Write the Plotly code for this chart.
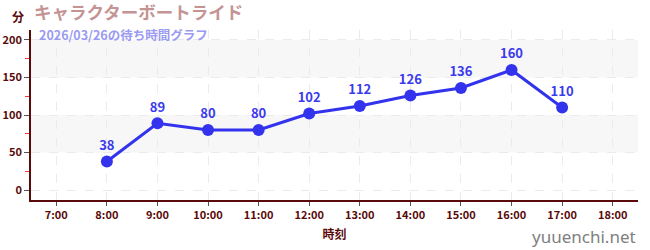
import plotly.graph_objects as go

hours = [8, 9, 10, 11, 12, 13, 14, 15, 16, 17]
waits = [38, 89, 80, 80, 102, 112, 126, 136, 160, 110]
tick_hours = [7, 8, 9, 10, 11, 12, 13, 14, 15, 16, 17, 18]
tick_labels = [f"{h}:00" for h in tick_hours]
y_ticks = [0, 50, 100, 150, 200]
bands = [(50, 100), (150, 200)]

title = "キャラクターボートライド"
subtitle = "2026/03/26の待ち時間グラフ"
font = "Noto Sans CJK JP"
axis_col = "#5a0a0a"

fig = go.Figure()
fig.add_trace(go.Scatter(
    x=hours, y=waits, mode="lines+markers+text",
    text=[str(v) for v in waits], textposition="top center",
    textfont=dict(family=font, size=13, color="#3a3aee", weight="bold"),
    line=dict(color="#3333ee", width=3),
    marker=dict(color="#3333ee", size=12),
    cliponaxis=False, hoverinfo="skip",
))

shapes = []
for lo, hi in bands:
    shapes.append(dict(type="rect", xref="paper", yref="y", x0=0, x1=1, y0=lo, y1=hi,
                       fillcolor="#f7f7f7", line=dict(width=0), layer="below"))

fig.update_layout(
    width=650, height=250,
    margin=dict(l=31, r=12, t=30, b=50),
    paper_bgcolor="white", plot_bgcolor="white",
    showlegend=False,
    shapes=shapes,
    font=dict(family=font, color=axis_col),
    xaxis=dict(
        range=[6.5, 18.5], tickvals=tick_hours, ticktext=tick_labels,
        showline=True, linecolor=axis_col, linewidth=1.5,
        ticks="outside", ticklen=4, tickcolor="#555",
        tickfont=dict(family=font, size=11, color=axis_col, weight="bold"),
        showgrid=True, gridcolor="#ebebeb", griddash="dash", gridwidth=1,
        zeroline=False, fixedrange=True, automargin=False,
        title=dict(text="時刻", font=dict(family=font, size=12, color=axis_col, weight="bold"), standoff=10),
    ),
    yaxis=dict(
        range=[-13.3, 213.3], tickvals=y_ticks,
        showline=True, linecolor=axis_col, linewidth=1.5,
        ticks="outside", ticklen=5, tickcolor="#555",
        tickfont=dict(family=font, size=11, color=axis_col, weight="bold"),
        showgrid=True, gridcolor="#ebebeb", griddash="dash", gridwidth=1,
        zeroline=False, fixedrange=True, automargin=False,
        minor=dict(dtick=25, tick0=0, ticks="outside", ticklen=4, tickcolor="#ff3333", showgrid=False),
    ),
    annotations=[
        dict(text=title, xref="paper", yref="paper", x=0.0, y=1.0, xanchor="left", yanchor="bottom",
             xshift=2, yshift=5, showarrow=False, borderpad=0,
             font=dict(family=font, size=17.5, color="#c49494", weight="bold")),
        dict(text=subtitle, xref="paper", yref="paper", x=0.0, y=1.0, xanchor="left", yanchor="middle",
             xshift=7, yshift=-4, showarrow=False, borderpad=0,
             font=dict(family=font, size=12.5, color="#9a9af2", weight="bold")),
        dict(text="分", xref="paper", yref="paper", x=0.0, y=1.0, xanchor="right", yanchor="bottom",
             xshift=-5, yshift=3, showarrow=False,
             font=dict(family=font, size=12, color=axis_col, weight="bold")),
        dict(text="yuuenchi.net", xref="paper", yref="paper", x=1.0, y=0, xanchor="right", yanchor="top",
             xshift=0, yshift=-23, showarrow=False,
             font=dict(family="Noto Sans", size=17, color="#808080")),
    ],
)

fig.write_html("out.html")
